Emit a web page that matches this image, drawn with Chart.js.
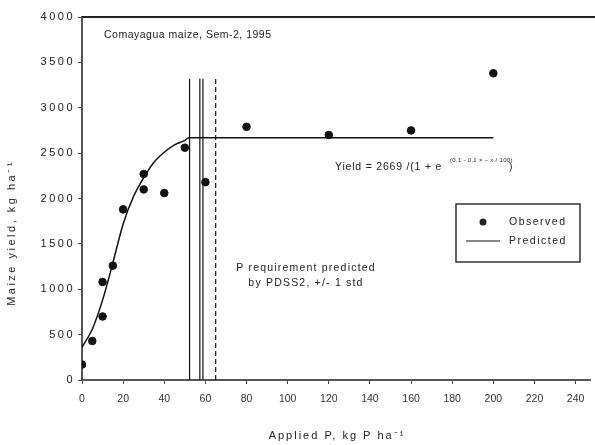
<!DOCTYPE html>
<html>
<head>
<meta charset="utf-8">
<script src="https://cdn.jsdelivr.net/npm/chart.js@4.4.1/dist/chart.umd.min.js"></script>
<style>
  html, body { margin: 0; padding: 0; background: #fff; }
  #wrap { width: 595px; height: 445px; position: relative; }
</style>
</head>
<body>
<div id="wrap"><canvas id="chart"></canvas></div>
<script>
// observed yields
const obsP = [0, 5, 10, 10, 15, 20, 30, 30, 40, 50, 60, 80, 120, 160, 200];
const obsYield = [170, 430, 700, 1080, 1260, 1880, 2100, 2270, 2060, 2560, 2180, 2790, 2700, 2750, 3380];

// predicted curve
const predP = [0, 5, 10, 15, 20, 25, 30, 35, 40, 45, 50, 52, 60, 200];
const predYield = [360, 560, 880, 1290, 1720, 2020, 2230, 2400, 2510, 2590, 2640, 2669, 2669, 2669];

// P requirement lines (PDSS2 +/- 1 std)
const reqSolid = [52.3, 57.3, 58.8];
const reqDashed = [65];
const reqTop = 3320;

const xTicks = [0, 20, 40, 60, 80, 100, 120, 140, 160, 180, 200, 220, 240];
const yTicks = [0, 500, 1000, 1500, 2000, 2500, 3000, 3500, 4000];

const FONT = "'Liberation Sans', Arial, sans-serif";
Chart.defaults.font.family = FONT;
Chart.defaults.color = '#222';

function vLine(x, dashed) {
    return {
        type: 'line',
        data: [{x: x, y: 0}, {x: x, y: reqTop}],
        borderColor: '#111',
        borderWidth: 1.2,
        borderDash: dashed ? [5, 3] : [],
        pointRadius: 0,
        tension: 0
    };
}

function txt(c, s, x, y, size, spacing) {
    c.font = size + 'px ' + FONT;
    c.letterSpacing = spacing + 'px';
    c.fillText(s, x, y);
}

const extras = {
    id: 'extras',
    afterDraw(chart) {
        const c = chart.ctx, a = chart.chartArea;
        const ys = chart.scales.y;
        c.save();
        // top frame
        c.strokeStyle = '#222';
        c.lineWidth = 2;
        c.beginPath();
        c.moveTo(a.left, a.top);
        c.lineTo(595, a.top);
        c.stroke();

        c.fillStyle = '#222';
        c.textBaseline = 'middle';

        // y tick labels (wide spaced like the scan)
        c.textAlign = 'right';
        yTicks.forEach(v => txt(c, String(v), 75, ys.getPixelForValue(v), 11, 2.5));

        c.textAlign = 'left';
        txt(c, 'Comayagua maize, Sem-2, 1995', 104, 35, 10.5, 0.5);

        // equation
        txt(c, 'Yield = 2669 /(1 + e', 335, 167, 10.5, 0.8);
        txt(c, '(0.1 - 0.1 \u00d7 \u2013 x / 100)', 450, 160, 6, 0.3);
        txt(c, ')', 509, 167, 10.5, 0);

        c.textAlign = 'center';
        txt(c, 'P requirement predicted', 306, 268, 10.5, 1.2);
        txt(c, 'by PDSS2, +/- 1 std', 306, 283, 10.5, 1.2);

        // legend
        c.lineWidth = 1.5;
        c.strokeStyle = '#333';
        c.strokeRect(456, 204, 124, 58);
        c.beginPath();
        c.arc(483, 222, 3.5, 0, Math.PI * 2);
        c.fill();
        c.lineWidth = 1.2;
        c.strokeStyle = '#111';
        c.beginPath();
        c.moveTo(466, 241);
        c.lineTo(500, 241);
        c.stroke();
        c.textAlign = 'left';
        txt(c, 'Observed', 509, 222, 10.5, 1.5);
        txt(c, 'Predicted', 509, 241, 10.5, 1.5);

        // axis titles
        c.textAlign = 'center';
        txt(c, 'Applied P, kg P ha\u207b\u00b9', 337, 436, 11, 2);
        c.translate(12, 233);
        c.rotate(-Math.PI / 2);
        txt(c, 'Maize yield, kg ha\u207b\u00b9', 0, 0, 11, 2.5);
        c.restore();
    }
};

new Chart(document.getElementById('chart'), {
    type: 'scatter',
    data: {
        datasets: [
            {
                label: 'Observed',
                data: obsP.map((p, i) => ({x: p, y: obsYield[i]})),
                backgroundColor: '#111',
                borderColor: '#111',
                pointRadius: 3.8,
                pointStyle: 'circle'
            },
            {
                type: 'line',
                label: 'Predicted',
                data: predP.map((p, i) => ({x: p, y: predYield[i]})),
                borderColor: '#111',
                borderWidth: 1.5,
                pointRadius: 0,
                cubicInterpolationMode: 'monotone'
            },
            ...reqSolid.map(x => vLine(x, false)),
            ...reqDashed.map(x => vLine(x, true))
        ]
    },
    options: {
        responsive: true,
        maintainAspectRatio: false,
        animation: false,
        layout: { padding: { left: 0, right: 0, top: 17, bottom: 0 } },
        plugins: { legend: { display: false }, tooltip: { enabled: false } },
        scales: {
            x: {
                type: 'linear',
                min: 0,
                max: 247,
                afterBuildTicks: s => { s.ticks = xTicks.map(v => ({value: v})); },
                afterFit: s => { s.height = 65; },
                grid: { drawOnChartArea: false, tickLength: 4, color: '#444' },
                border: { color: '#555', width: 2 },
                ticks: { font: { size: 10.5 }, color: '#333', padding: 9, maxRotation: 0,
                         callback: v => String(v) }
            },
            y: {
                min: 0,
                max: 4000,
                afterBuildTicks: s => { s.ticks = yTicks.map(v => ({value: v})); },
                afterFit: s => { s.width = 82; },
                grid: { drawOnChartArea: false, tickLength: 4, color: '#444' },
                border: { color: '#555', width: 2 },
                ticks: { display: false }
            }
        }
    },
    plugins: [extras]
});
</script>
</body>
</html>
